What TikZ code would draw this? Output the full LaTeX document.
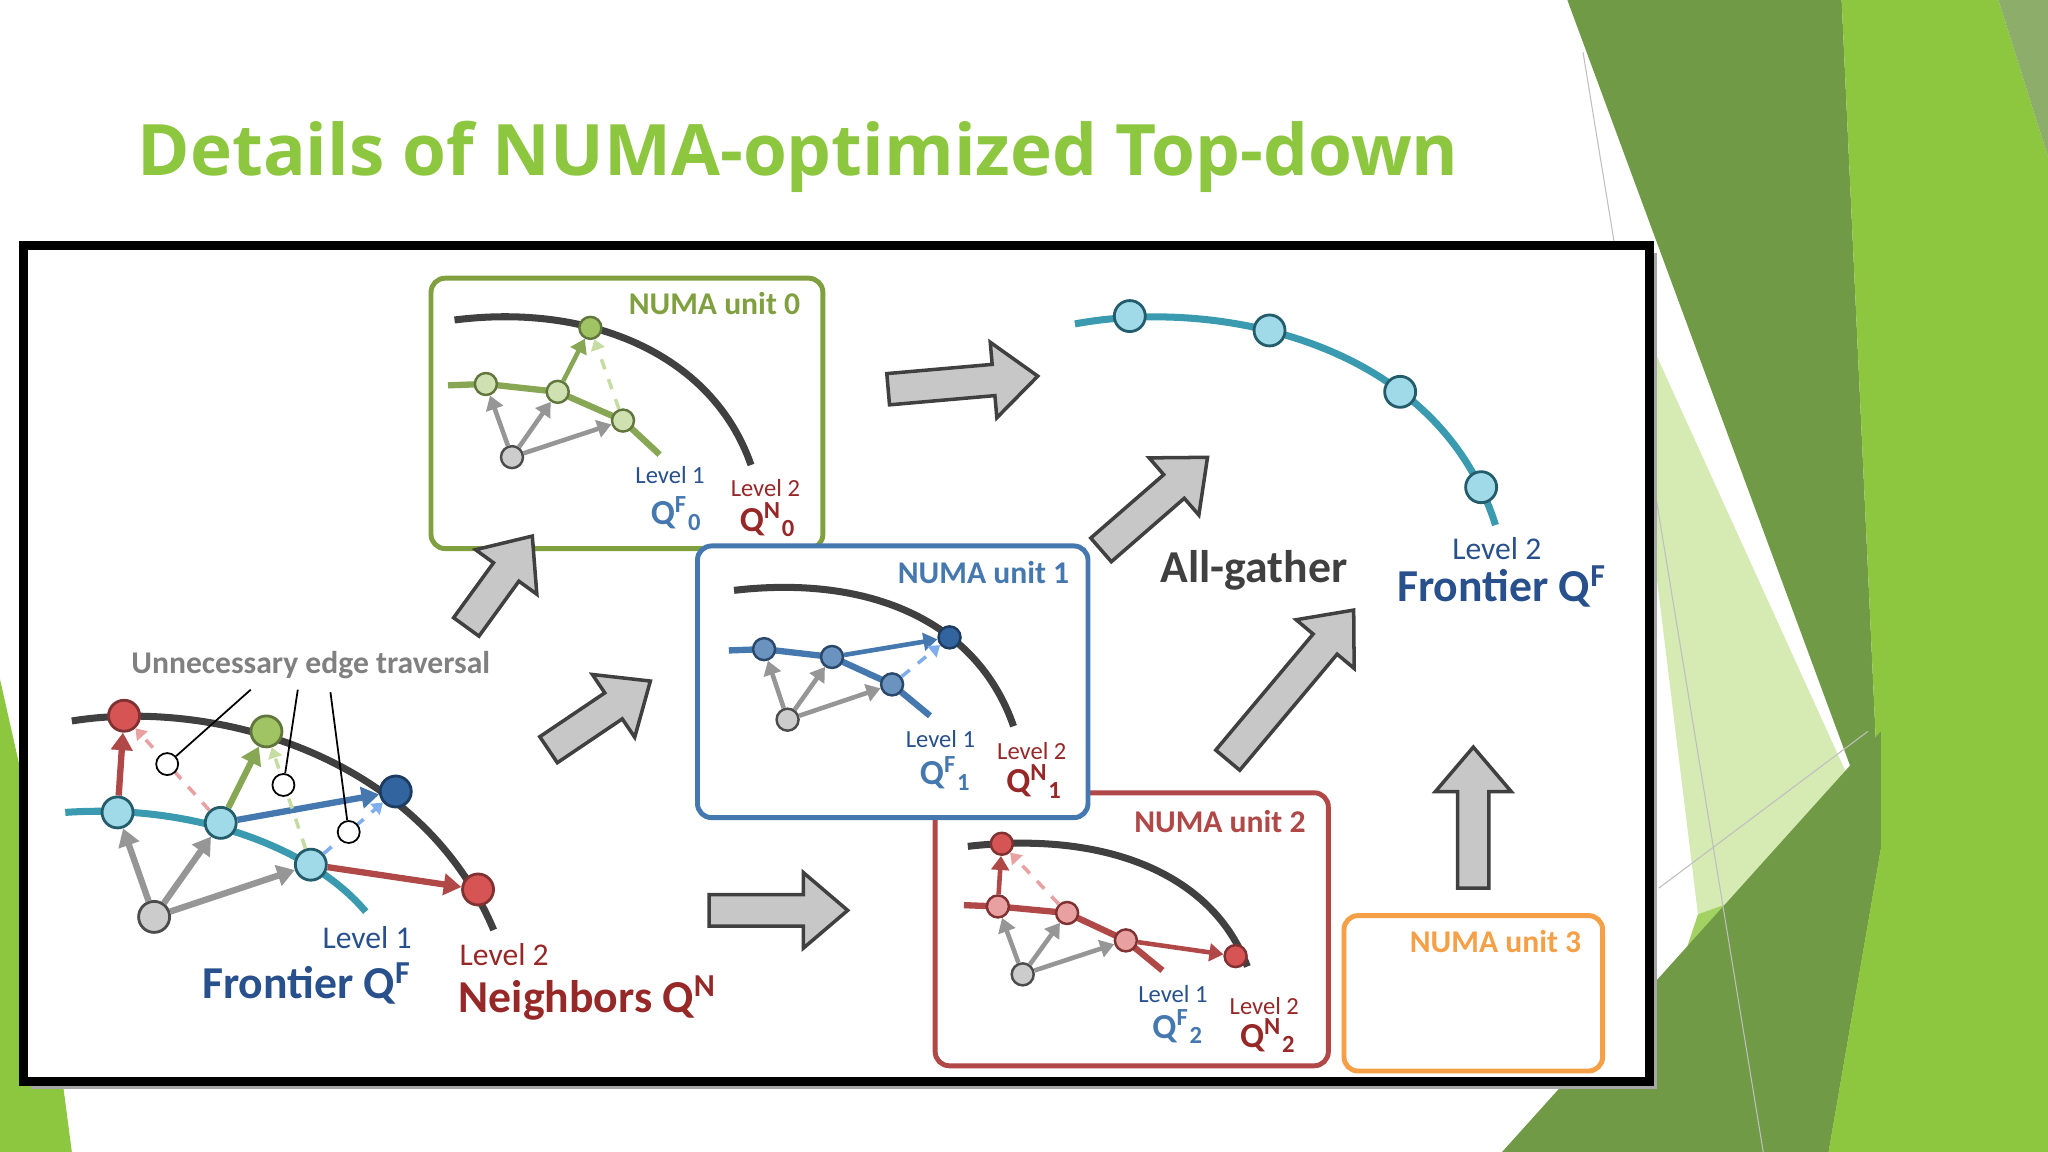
\documentclass[tikz,border=0pt]{standalone}
\usepackage{fontspec}
\setmainfont{Carlito}
\newfontfamily\titlefont{Open Sans}
\usetikzlibrary{arrows.meta}

\definecolor{titlegreen}{RGB}{141,198,63}
\definecolor{darkgreen}{RGB}{112,154,70}
\definecolor{palegreen}{RGB}{214,234,180}
\definecolor{arcgray}{RGB}{64,64,64}
\definecolor{teal}{RGB}{58,154,176}
\definecolor{lightblue}{RGB}{160,218,232}
\definecolor{unitgreen}{RGB}{128,160,64}
\definecolor{nodegreen}{RGB}{160,196,100}
\definecolor{unitblue}{RGB}{70,120,176}
\definecolor{darkblue}{RGB}{50,100,160}
\definecolor{unitred}{RGB}{176,72,72}
\definecolor{nodered}{RGB}{214,84,84}
\definecolor{salmon}{RGB}{232,160,160}
\definecolor{unitorange}{RGB}{245,160,70}
\definecolor{textblue}{RGB}{40,80,140}
\definecolor{textred}{RGB}{150,40,40}
\definecolor{arrgray}{RGB}{150,150,150}

\tikzset{
  arc/.style={arcgray, line width=2pt},
  vtx/.style={circle, draw=#1!60!black, line width=0.8pt, minimum size=0.31cm, inner sep=0pt},
  svtx/.style={circle, draw=#1!60!black, line width=0.7pt, minimum size=0.22cm, inner sep=0pt},
  hole/.style={circle, draw=black, fill=white, line width=0.5pt, minimum size=0.22cm, inner sep=0pt},
  edge/.style={line width=1.8pt, -{Triangle[length=5pt,width=6pt]}},
  sedge/.style={line width=1.3pt, -{Triangle[length=4pt,width=5pt]}},
  skip/.style={line width=1pt, dashed, -{Triangle[length=3pt,width=4pt]}},
  unitbox/.style={draw=#1, line width=1.4pt, rounded corners=4pt, fill=white},
  unitlbl/.style={font=\bfseries\fontsize{9}{10}\selectfont, text=#1},
  lvl/.style={font=\fontsize{7}{8}\selectfont, text=#1},
  qlbl/.style={font=\bfseries\fontsize{10}{12}\selectfont, text=#1},
  blockarr/.style={draw=arcgray, fill=black!22, line width=1pt}
}
\newcommand{\blockarrow}[4]{%
  \draw[blockarr, shift={(#1,#2)}, rotate=#3]
    (0,-12) -- (#4-34,-12) -- (#4-34,-29) -- (#4,0) -- (#4-34,29) -- (#4-34,12) -- (0,12) -- cycle;}

\begin{document}
\begin{tikzpicture}[x=0.013061cm, y=-0.013061cm]
\useasboundingbox (0,0) rectangle (1568,882);
% slide background
\fill[white] (0,0) rectangle (1568,882);
\fill[darkgreen] (1200,0) -- (1410,0) -- (1440,650) -- cycle;
\fill[titlegreen] (1410,0) -- (1530,0) -- (1568,120) -- (1568,882) -- (1440,650) -- cycle;
\fill[darkgreen!80] (1530,0) -- (1568,0) -- (1568,120) -- cycle;
\fill[palegreen] (1240,210) -- (1440,650) -- (1300,700) -- cycle;
\fill[titlegreen!70!palegreen] (1300,700) -- (1440,650) -- (1400,882) -- (1240,882) -- cycle;
\fill[darkgreen] (1150,882) -- (1440,560) -- (1440,650) -- (1400,882) -- cycle;
\fill[titlegreen] (1400,882) -- (1440,650) -- (1568,500) -- (1568,882) -- cycle;
\fill[titlegreen] (0,520) -- (18,600) -- (55,882) -- (0,882) -- cycle;
\draw[black!25, line width=0.3pt] (1212,40) -- (1350,882);
\draw[black!25, line width=0.3pt] (1270,680) -- (1430,560);
\node[font=\titlefont\bfseries\fontsize{20.2}{24}\selectfont, text=titlegreen, anchor=west] (title) at (96,120) {Details of NUMA-optimized Top-down};

% frame
\fill[black!35] (24,194) rectangle (1269,834);
\draw[line width=2.5pt, fill=white] (18,188) rectangle (1263,828);

% NUMA unit boxes
\draw[unitbox=unitgreen] (330,213) rectangle (630,420);
\draw[unitbox=unitred] (716,607) rectangle (1017,816);
\draw[unitbox=unitblue] (534,418) rectangle (833,626);
\draw[unitbox=unitorange] (1029,701) rectangle (1227,820);
\node[unitlbl=unitgreen] (u0) at (547,232) {NUMA unit 0};
\node[unitlbl=unitblue] (u1) at (753,438) {NUMA unit 1};
\node[unitlbl=unitred] (u2) at (934,629) {NUMA unit 2};
\node[unitlbl=unitorange] (u3) at (1145,721) {NUMA unit 3};

% block arrows
\blockarrow{680}{298}{5}{115}
\blockarrow{357}{480}{54}{86}
\blockarrow{420}{574}{34}{94}
\blockarrow{543}{697}{0}{106}
\blockarrow{843}{421}{41}{108}
\blockarrow{940}{582}{50}{150}
\blockarrow{1128}{680}{90}{108}

% main graph
\draw[arc] (55,552) .. controls (160,535) and (320,575) .. (378,712);
\draw[teal, line width=2pt] (50,622) .. controls (150,615) and (240,650) .. (280,698);
\node[vtx=nodered, fill=nodered] (r1) at (95,548) {};
\node[vtx=nodegreen, fill=nodegreen] (g1) at (204,560) {};
\node[vtx=darkblue, fill=darkblue] (b1) at (303,606) {};
\node[vtx=nodered, fill=nodered] (r2) at (366,681) {};
\node[vtx=teal, fill=lightblue] (f1) at (90,622) {};
\node[vtx=teal, fill=lightblue] (f2) at (169,630) {};
\node[vtx=teal, fill=lightblue] (f3) at (238,662) {};
\node[vtx=gray, fill=black!20] (s) at (118,702) {};
\draw[edge, arrgray] (s) -- (f1);
\draw[edge, arrgray] (s) -- (f2);
\draw[edge, arrgray] (s) -- (f3);
\draw[edge, unitred] (f1) -- (r1);
\draw[edge, nodegreen!85!black] (f2) -- (g1);
\draw[edge, unitblue] (f2) -- (b1);
\draw[edge, unitred] (f3) -- (r2);
\draw[skip, salmon] (f2) -- (r1);
\draw[skip, nodegreen!60] (f3) -- (g1);
\draw[skip, lightblue!80!blue] (f3) -- (b1);
\node[hole] (h1) at (128,585) {};
\node[hole] (h2) at (217,601) {};
\node[hole] (h3) at (267,637) {};
\coordinate (c1) at (192,528);
\coordinate (c2) at (228,528);
\coordinate (c3) at (253,530);
\draw[line width=0.5pt] (c1) -- (h1);
\draw[line width=0.5pt] (c2) -- (h2);
\draw[line width=0.5pt] (c3) -- (h3);
\node[font=\bfseries\fontsize{9}{10}\selectfont, text=black!50] (unn) at (238,509) {Unnecessary edge traversal};
\node[font=\fontsize{9}{10}\selectfont, text=textblue] (lv1) at (281,718) {Level 1};
\node[font=\bfseries\fontsize{13}{15}\selectfont, text=textblue] (fq) at (235,753) {Frontier Q\textsuperscript{F}};
\node[font=\fontsize{9}{10}\selectfont, text=textred] (lv2) at (386,731) {Level 2};
\node[font=\bfseries\fontsize{13}{15}\selectfont, text=textred] (nq) at (450,764) {Neighbors Q\textsuperscript{N}};

% NUMA unit 0
\draw[arc] (348,245) .. controls (450,232) and (545,270) .. (575,356);
\draw[nodegreen!85!black, line width=1.8pt] (343,295) -- (372,294) -- (427,300) -- (477,322) -- (505,348);
\node[svtx=nodegreen, fill=nodegreen] (a0) at (452,251) {};
\node[svtx=nodegreen, fill=nodegreen!50] (a1) at (372,294) {};
\node[svtx=nodegreen, fill=nodegreen!50] (a2) at (427,300) {};
\node[svtx=nodegreen, fill=nodegreen!50] (a3) at (477,322) {};
\node[svtx=gray, fill=black!20] (a4) at (392,350) {};
\draw[sedge, arrgray] (a4) -- (a1);
\draw[sedge, arrgray] (a4) -- (a2);
\draw[sedge, arrgray] (a4) -- (a3);
\draw[sedge, nodegreen!85!black] (a2) -- (a0);
\draw[skip, nodegreen!60] (a3) -- (a0);
\node[lvl=textblue] (a5) at (513,364) {Level 1};
\node[qlbl=unitblue] (a6) at (518,393) {Q\textsuperscript{F}\textsubscript{0}};
\node[lvl=textred] (a7) at (586,374) {Level 2};
\node[qlbl=textred] (a8) at (588,398) {Q\textsuperscript{N}\textsubscript{0}};

% NUMA unit 1
\draw[arc] (562,452) .. controls (665,440) and (748,475) .. (776,556);
\draw[unitblue, line width=1.8pt] (558,498) -- (585,497) -- (637,503) -- (683,524) -- (712,548);
\node[svtx=darkblue, fill=darkblue] (b0) at (727,488) {};
\node[svtx=unitblue, fill=unitblue!80] (b2) at (585,497) {};
\node[svtx=unitblue, fill=unitblue!80] (b3) at (637,503) {};
\node[svtx=unitblue, fill=unitblue!80] (b4) at (683,524) {};
\node[svtx=gray, fill=black!20] (b5) at (603,551) {};
\draw[sedge, arrgray] (b5) -- (b2);
\draw[sedge, arrgray] (b5) -- (b3);
\draw[sedge, arrgray] (b5) -- (b4);
\draw[sedge, unitblue] (b3) -- (b0);
\draw[skip, lightblue!80!blue] (b4) -- (b0);
\node[lvl=textblue] (b6) at (720,566) {Level 1};
\node[qlbl=unitblue] (b7) at (724,592) {Q\textsuperscript{F}\textsubscript{1}};
\node[lvl=textred] (b8) at (790,575) {Level 2};
\node[qlbl=textred] (b9) at (792,598) {Q\textsuperscript{N}\textsubscript{1}};

% NUMA unit 2
\draw[arc] (741,648) .. controls (845,636) and (928,668) .. (955,740);
\draw[unitred, line width=1.8pt] (738,693) -- (764,694) -- (817,699) -- (862,720) -- (890,743);
\node[svtx=nodered, fill=nodered] (c0) at (767,646) {};
\node[svtx=nodered, fill=salmon] (c2) at (764,694) {};
\node[svtx=nodered, fill=salmon] (c3) at (817,699) {};
\node[svtx=nodered, fill=salmon] (c4) at (862,720) {};
\node[svtx=nodered, fill=nodered] (c5) at (946,732) {};
\node[svtx=gray, fill=black!20] (c6) at (783,746) {};
\draw[sedge, arrgray] (c6) -- (c2);
\draw[sedge, arrgray] (c6) -- (c3);
\draw[sedge, arrgray] (c6) -- (c4);
\draw[sedge, unitred] (c2) -- (c0);
\draw[sedge, unitred] (c4) -- (c5);
\draw[skip, salmon] (c3) -- (c0);
\node[lvl=textblue] (c7) at (898,761) {Level 1};
\node[qlbl=unitblue] (c8) at (902,786) {Q\textsuperscript{F}\textsubscript{2}};
\node[lvl=textred] (c9) at (968,770) {Level 2};
\node[qlbl=textred] (c10) at (971,793) {Q\textsuperscript{N}\textsubscript{2}};

% gathered frontier
\draw[teal, line width=2pt] (823,248) .. controls (930,228) and (1100,260) .. (1145,402);
\node[vtx=teal, fill=lightblue] (d1) at (865,242) {};
\node[vtx=teal, fill=lightblue] (d2) at (972,253) {};
\node[vtx=teal, fill=lightblue] (d3) at (1072,300) {};
\node[vtx=teal, fill=lightblue] (d4) at (1134,373) {};
\node[font=\fontsize{9}{10}\selectfont, text=textblue] (d5) at (1146,420) {Level 2};
\node[font=\bfseries\fontsize{13}{15}\selectfont, text=textblue] (d6) at (1150,449) {Frontier Q\textsuperscript{F}};
\node[font=\bfseries\fontsize{13}{15}\selectfont, text=arcgray] (ag) at (960,437) {All-gather};
\end{tikzpicture}
\end{document}
